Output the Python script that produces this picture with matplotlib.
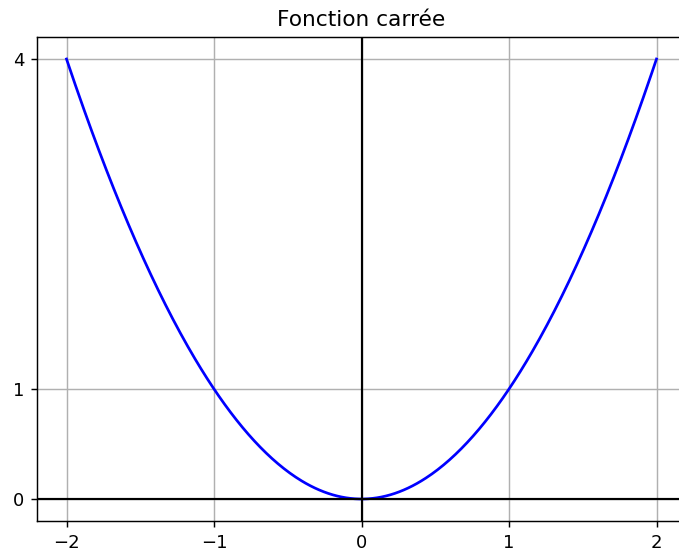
import numpy as np
import matplotlib
matplotlib.use("Agg")
import matplotlib.pyplot as plt

title = "Fonction carrée"
x_ticks = [-2, -1, 0, 1, 2]
y_ticks = [0, 1, 4]
x_min, x_max = -2, 2

x = np.linspace(x_min, x_max, 400)
y = x ** 2

dpi = 130
fig = plt.figure(figsize=(679/dpi, 553/dpi), dpi=dpi)
ax = fig.add_axes([37/679, 32/553, 649/679, 484/553])
ax.plot(x, y, color="blue")
ax.axhline(0, color="black", linewidth=1.2)
ax.axvline(0, color="black", linewidth=1.2)
ax.set_xticks(x_ticks)
ax.set_yticks(y_ticks)
ax.set_xlim(-2.2, 2.2)
ax.set_ylim(-0.2, 4.2)
ax.grid(True)
ax.set_title(title)
fig.savefig("out.png", dpi=dpi)
